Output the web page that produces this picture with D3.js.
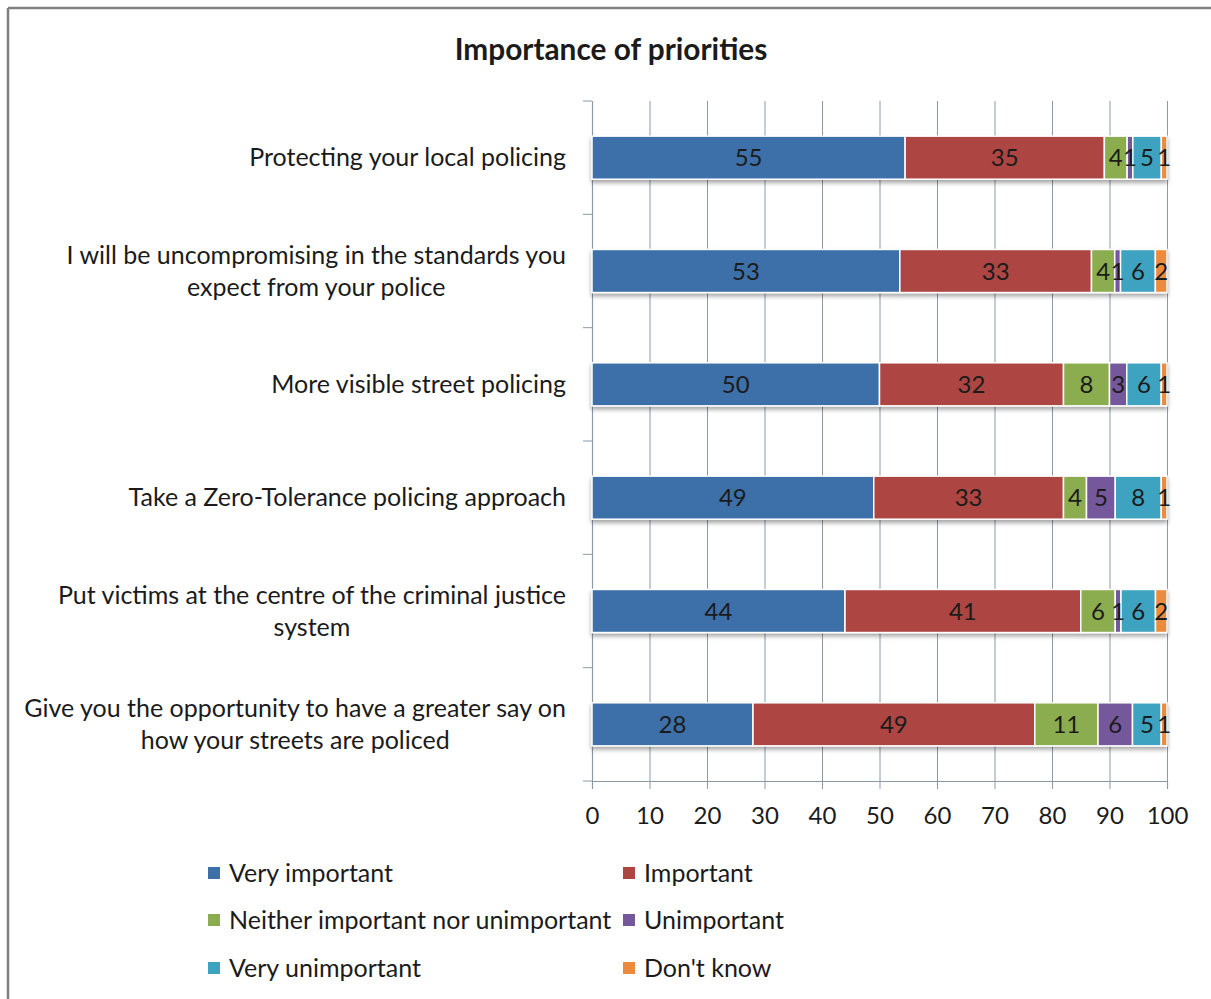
<!DOCTYPE html>
<html>
<head>
<meta charset="utf-8">
<script src="https://cdn.jsdelivr.net/npm/d3@7"></script>
<style>
  html, body { margin: 0; padding: 0; background: #ffffff; }
  svg { display: block; }
  text { font-family: Lato, "Open Sans", sans-serif; fill: #1b1b1b; }
</style>
</head>
<body>
<svg id="chart" width="1211" height="999"></svg>
<script>
// ---------- data ----------
const title = "Importance of priorities";
const categories = [
  "Protecting your local policing",
  "I will be uncompromising in the standards you expect from your police",
  "More visible street policing",
  "Take a Zero-Tolerance policing approach",
  "Put victims at the centre of the criminal justice system",
  "Give you the opportunity to have a greater say on how your streets are policed"
];
const categoryLines = [
  ["Protecting your local policing"],
  ["I will be uncompromising in the standards you", "expect from your police"],
  ["More visible street policing"],
  ["Take a Zero-Tolerance policing approach"],
  ["Put victims at the centre of the criminal justice", "system"],
  ["Give you the opportunity to have a greater say on", "how your streets are policed"]
];
const seriesNames = ["Very important", "Important", "Neither important nor unimportant", "Unimportant", "Very unimportant", "Don't know"];
const veryImportant   = [55, 53, 50, 49, 44, 28];
const important       = [35, 33, 32, 33, 41, 49];
const neither         = [4, 4, 8, 4, 6, 11];
const unimportant     = [1, 1, 3, 5, 1, 6];
const veryUnimportant = [5, 6, 6, 8, 6, 5];
const dontKnow        = [1, 2, 1, 1, 2, 1];
const xTicks = [0, 10, 20, 30, 40, 50, 60, 70, 80, 90, 100];
const colors = ["#3d70a8", "#ad4542", "#8cad4f", "#74589c", "#3ea3c0", "#ec8b3e"];

(function () {
// ---------- build table ----------
const seriesValues = [veryImportant, important, neither, unimportant, veryUnimportant, dontKnow];
const rows = categories.map((c, i) => {
  const r = { category: c, index: i };
  seriesNames.forEach((s, j) => r[s] = seriesValues[j][i]);
  return r;
});
const stack = d3.stack().keys(seriesNames).offset(d3.stackOffsetExpand);
const stacked = stack(rows);

// ---------- layout ----------
const svg = d3.select("#chart");
const pLeft = 592, pRight = 1167, pTop = 101, pBottom = 781;
const fs = "25px";

const x = d3.scaleLinear().domain([0, 100]).range([pLeft, pRight]);
const y = d3.scaleBand().domain(categories).range([pTop, pBottom]).paddingInner(0.62).paddingOuter(0.31);
const yStep = y.step();

// frame
svg.append("line").attr("x1", 8).attr("x2", 8).attr("y1", 8).attr("y2", 999).attr("stroke", "#808080").attr("stroke-width", 2.5);
svg.append("line").attr("x1", 8).attr("x2", 1211).attr("y1", 8).attr("y2", 8).attr("stroke", "#808080").attr("stroke-width", 2.5);

// title
svg.append("text").attr("x", 611).attr("y", 60).attr("text-anchor", "middle")
  .style("font-size", "29.8px").style("font-weight", "bold").text(title);

// shadow filter
const defs = svg.append("defs");
const f = defs.append("filter").attr("id", "shadow").attr("x", "-5%").attr("y", "-20%").attr("width", "110%").attr("height", "160%");
f.append("feDropShadow").attr("dx", 0).attr("dy", 3).attr("stdDeviation", 2).attr("flood-color", "#000").attr("flood-opacity", 0.35);

// gridlines
const gridColor = "#8b9aa8";
svg.append("g").selectAll("line").data(xTicks.slice(1)).join("line")
  .attr("x1", d => x(d) + 0.5).attr("x2", d => x(d) + 0.5)
  .attr("y1", pTop).attr("y2", pBottom)
  .attr("stroke", gridColor).attr("stroke-width", 1);

// x axis
const xAxis = d3.axisBottom(x).tickValues(xTicks).tickSize(8).tickPadding(18);
const gx = svg.append("g").attr("transform", `translate(0,${pBottom})`).call(xAxis);
gx.select(".domain").attr("stroke", gridColor).attr("stroke-width", 1.2);
gx.selectAll(".tick line").attr("stroke", gridColor);
gx.selectAll(".tick text").style("font-size", "24px").style("font-family", "Lato, 'Open Sans', sans-serif").attr("fill", "#1b1b1b");

// y axis (category boundaries)
const boundaries = d3.range(categories.length + 1).map(i => pTop + i * yStep);
svg.append("line").attr("x1", pLeft + 0.5).attr("x2", pLeft + 0.5).attr("y1", pTop).attr("y2", pBottom)
  .attr("stroke", gridColor).attr("stroke-width", 1.2);
svg.append("g").selectAll("line").data(boundaries).join("line")
  .attr("x1", pLeft - 9).attr("x2", pLeft).attr("y1", d => d).attr("y2", d => d)
  .attr("stroke", gridColor).attr("stroke-width", 1);

// bars
const barsG = svg.append("g").attr("filter", "url(#shadow)");
stacked.forEach((layer, j) => {
  barsG.append("g").attr("fill", colors[j]).selectAll("rect").data(layer).join("rect")
    .attr("x", d => x(d[0] * 100))
    .attr("y", d => y(d.data.category))
    .attr("width", d => Math.max(0, x(d[1] * 100) - x(d[0] * 100)))
    .attr("height", y.bandwidth())
    .attr("stroke", "#ffffff").attr("stroke-width", 1.5);
});

// data labels
stacked.forEach((layer, j) => {
  svg.append("g").selectAll("text").data(layer).join("text")
    .attr("x", d => x((d[0] + d[1]) / 2 * 100))
    .attr("y", d => y(d.data.category) + y.bandwidth() / 2 + 8.5)
    .attr("text-anchor", "middle")
    .style("font-size", "24px")
    .text(d => d.data[seriesNames[j]]);
});

// category labels
const labelRight = 566;
categoryLines.forEach((lines, i) => {
  const cy = y(categories[i]) + y.bandwidth() / 2;
  const g = svg.append("g");
  const t = g.selectAll("text").data(lines).join("text")
    .style("font-size", fs)
    .attr("y", (d, k) => cy + 8.5 + (k - (lines.length - 1) / 2) * 32)
    .text(d => d);
  let maxW = 0;
  t.each(function () { maxW = Math.max(maxW, this.getComputedTextLength()); });
  t.attr("x", labelRight - maxW / 2).attr("text-anchor", "middle");
});

// legend
const legendCols = [208, 623];
const legendRows = [873, 920, 968];
seriesNames.forEach((s, j) => {
  const lx = legendCols[j % 2], ly = legendRows[Math.floor(j / 2)];
  svg.append("rect").attr("x", lx).attr("y", ly - 6).attr("width", 12).attr("height", 12).attr("fill", colors[j]);
  svg.append("text").attr("x", lx + 21).attr("y", ly + 8.5).style("font-size", fs).text(s);
});
})();
</script>
</body>
</html>
